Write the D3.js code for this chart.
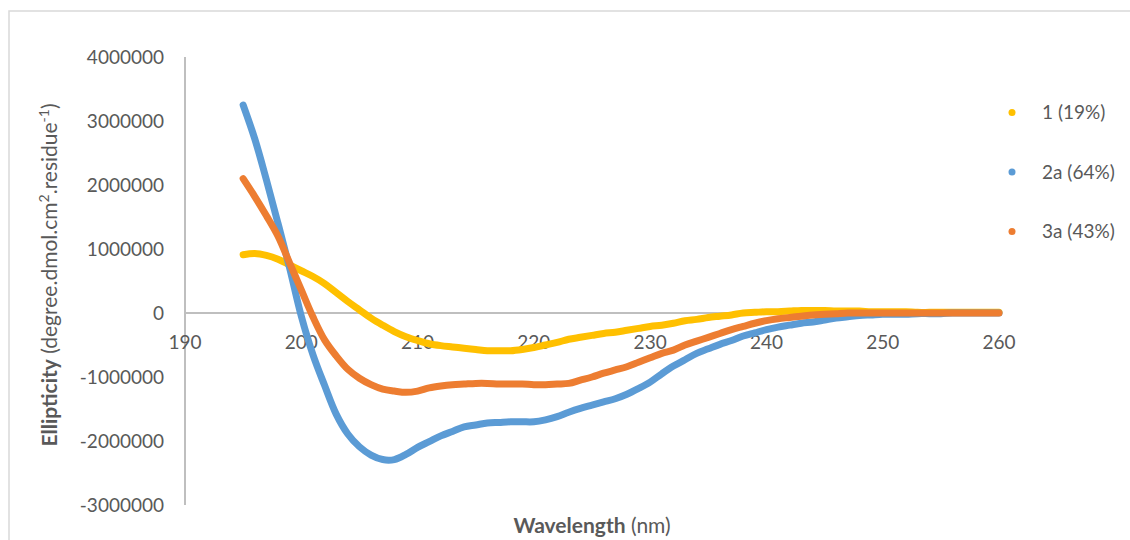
<!DOCTYPE html>
<html>
<head>
<meta charset="utf-8">
<script src="https://cdn.jsdelivr.net/npm/d3@7"></script>
<style>
  body { margin: 0; background: #fff; }
  svg { font-family: Lato, "Open Sans", sans-serif; }
</style>
</head>
<body>
<svg id="chart" width="1130" height="540"></svg>
<script>
// wavelength (nm), 1 nm steps
var wavelengths = [195, 196, 197, 198, 199, 200, 201, 202, 203, 204, 205, 206, 207, 208, 209,
  210, 211, 212, 213, 214, 215, 216, 217, 218, 219, 220, 221, 222, 223, 224, 225, 226, 227,
  228, 229, 230, 231, 232, 233, 234, 235, 236, 237, 238, 239, 240, 241, 242, 243, 244, 245,
  246, 247, 248, 249, 250, 251, 252, 253, 254, 255, 256, 257, 258, 259, 260];

var series1 = [0.91e6, 0.93e6, 0.90e6, 0.84e6, 0.75e6, 0.66e6, 0.57e6, 0.46e6, 0.32e6, 0.18e6,
  0.05e6, -0.08e6, -0.19e6, -0.29e6, -0.37e6, -0.43e6, -0.48e6, -0.51e6, -0.53e6, -0.55e6,
  -0.57e6, -0.59e6, -0.59e6, -0.59e6, -0.57e6, -0.54e6, -0.50e6, -0.46e6, -0.41e6, -0.38e6,
  -0.35e6, -0.32e6, -0.30e6, -0.27e6, -0.24e6, -0.21e6, -0.19e6, -0.16e6, -0.12e6, -0.10e6,
  -0.07e6, -0.05e6, -0.03e6, 0.00e6, 0.01e6, 0.02e6, 0.02e6, 0.03e6, 0.04e6, 0.04e6,
  0.04e6, 0.03e6, 0.03e6, 0.03e6, 0.02e6, 0.02e6, 0.02e6, 0.02e6, 0.01e6, 0.01e6,
  0.01e6, 0.01e6, 0.01e6, 0.01e6, 0.01e6, 0.01e6];

var series2a = [3.25e6, 2.72e6, 2.08e6, 1.40e6, 0.70e6, -0.05e6, -0.65e6, -1.13e6, -1.58e6, -1.89e6,
  -2.09e6, -2.22e6, -2.29e6, -2.29e6, -2.21e6, -2.10e6, -2.01e6, -1.92e6, -1.85e6, -1.78e6,
  -1.75e6, -1.72e6, -1.71e6, -1.70e6, -1.70e6, -1.70e6, -1.67e6, -1.62e6, -1.55e6, -1.49e6,
  -1.44e6, -1.39e6, -1.34e6, -1.27e6, -1.18e6, -1.08e6, -0.95e6, -0.83e6, -0.73e6, -0.63e6,
  -0.56e6, -0.49e6, -0.43e6, -0.36e6, -0.31e6, -0.26e6, -0.22e6, -0.19e6, -0.16e6, -0.14e6,
  -0.11e6, -0.08e6, -0.06e6, -0.04e6, -0.03e6, -0.02e6, -0.02e6, -0.02e6, -0.01e6, -0.01e6,
  -0.01e6, 0, 0, 0, 0, 0];

var series3a = [2.10e6, 1.82e6, 1.52e6, 1.20e6, 0.78e6, 0.36e6, -0.06e6, -0.42e6, -0.67e6, -0.88e6,
  -1.02e6, -1.12e6, -1.19e6, -1.22e6, -1.24e6, -1.22e6, -1.17e6, -1.14e6, -1.12e6, -1.11e6,
  -1.10e6, -1.10e6, -1.11e6, -1.11e6, -1.11e6, -1.12e6, -1.12e6, -1.11e6, -1.10e6, -1.05e6,
  -1.00e6, -0.94e6, -0.89e6, -0.84e6, -0.77e6, -0.70e6, -0.63e6, -0.58e6, -0.50e6, -0.44e6,
  -0.38e6, -0.32e6, -0.26e6, -0.21e6, -0.16e6, -0.12e6, -0.09e6, -0.07e6, -0.05e6, -0.03e6,
  -0.02e6, -0.01e6, 0, 0, 0, 0, 0, 0, 0, 0,
  0, 0, 0, 0, 0, 0];

var seriesNames = ['1 (19%)', '2a (64%)', '3a (43%)'];
var seriesColors = ['#FFC000', '#5B9BD5', '#ED7D31'];
var xTicks = [190, 200, 210, 220, 230, 240, 250, 260];
var yTicks = [-3000000, -2000000, -1000000, 0, 1000000, 2000000, 3000000, 4000000];

var svg = d3.select('#chart');
var textColor = '#595959';
var axisColor = '#bfbfbf';

// outer chart frame (runs off the picture at right and bottom)
svg.append('rect').attr('x', 9).attr('y', 11).attr('width', 1200).attr('height', 600)
  .attr('fill', 'none').attr('stroke', '#d9d9d9').attr('stroke-width', 1.5);

var x = d3.scaleLinear().domain([190, 260]).range([185, 999]);
var y = d3.scaleLinear().domain([-3000000, 4000000]).range([505, 57]);

// y axis line and zero line
svg.append('line').attr('x1', x(190)).attr('x2', x(190)).attr('y1', y(4000000)).attr('y2', y(-3000000))
  .attr('stroke', axisColor).attr('stroke-width', 2);
svg.append('line').attr('x1', x(190)).attr('x2', x(260)).attr('y1', y(0)).attr('y2', y(0))
  .attr('stroke', axisColor).attr('stroke-width', 2);

svg.append('g').selectAll('text').data(yTicks).enter().append('text')
  .attr('x', 164).attr('y', function(d) { return y(d); })
  .attr('dy', '0.35em').attr('text-anchor', 'end')
  .attr('font-size', 19).attr('fill', textColor)
  .text(function(d) { return String(d); });

svg.append('g').selectAll('text').data(xTicks).enter().append('text')
  .attr('x', function(d) { return x(d); }).attr('y', 342)
  .attr('dy', '0.35em').attr('text-anchor', 'middle')
  .attr('font-size', 19).attr('fill', textColor)
  .text(function(d) { return d; });

// axis titles
var xt = svg.append('text').attr('x', 592).attr('y', 526).attr('dy', '0.35em')
  .attr('text-anchor', 'middle').attr('font-size', 21).attr('fill', textColor);
xt.append('tspan').attr('font-weight', 'bold').text('Wavelength');
xt.append('tspan').text(' (nm)');

var yt = svg.append('text').attr('transform', 'translate(50,275) rotate(-90)')
  .attr('dy', '0.35em').attr('text-anchor', 'middle').attr('font-size', 21).attr('fill', textColor);
yt.append('tspan').attr('font-weight', 'bold').text('Ellipticity');
yt.append('tspan').text(' (degree.dmol.cm');
yt.append('tspan').attr('font-size', 14).attr('dy', -8).text('2');
yt.append('tspan').attr('dy', 8).text('.residue');
yt.append('tspan').attr('font-size', 14).attr('dy', -8).text('-1');
yt.append('tspan').attr('dy', 8).text(')');

// series
var allSeries = [series1, series2a, series3a];
var line = d3.line()
  .x(function(d, i) { return x(wavelengths[i]); })
  .y(function(d) { return y(d); })
  .curve(d3.curveCatmullRom);

svg.append('g').selectAll('path').data(allSeries).enter().append('path')
  .attr('d', function(d) { return line(d); })
  .attr('fill', 'none')
  .attr('stroke', function(d, i) { return seriesColors[i]; })
  .attr('stroke-width', 7)
  .attr('stroke-linecap', 'round')
  .attr('stroke-linejoin', 'round');

// legend
var legend = svg.append('g').selectAll('g').data(seriesNames).enter().append('g')
  .attr('transform', function(d, i) { return 'translate(1012,' + (112.5 + i * 59.5) + ')'; });
legend.append('circle').attr('r', 3.5)
  .attr('fill', function(d, i) { return seriesColors[i]; });
legend.append('text').attr('x', 30).attr('dy', '0.35em')
  .attr('font-size', 19).attr('fill', textColor)
  .text(function(d) { return d; });
</script>
</body>
</html>
